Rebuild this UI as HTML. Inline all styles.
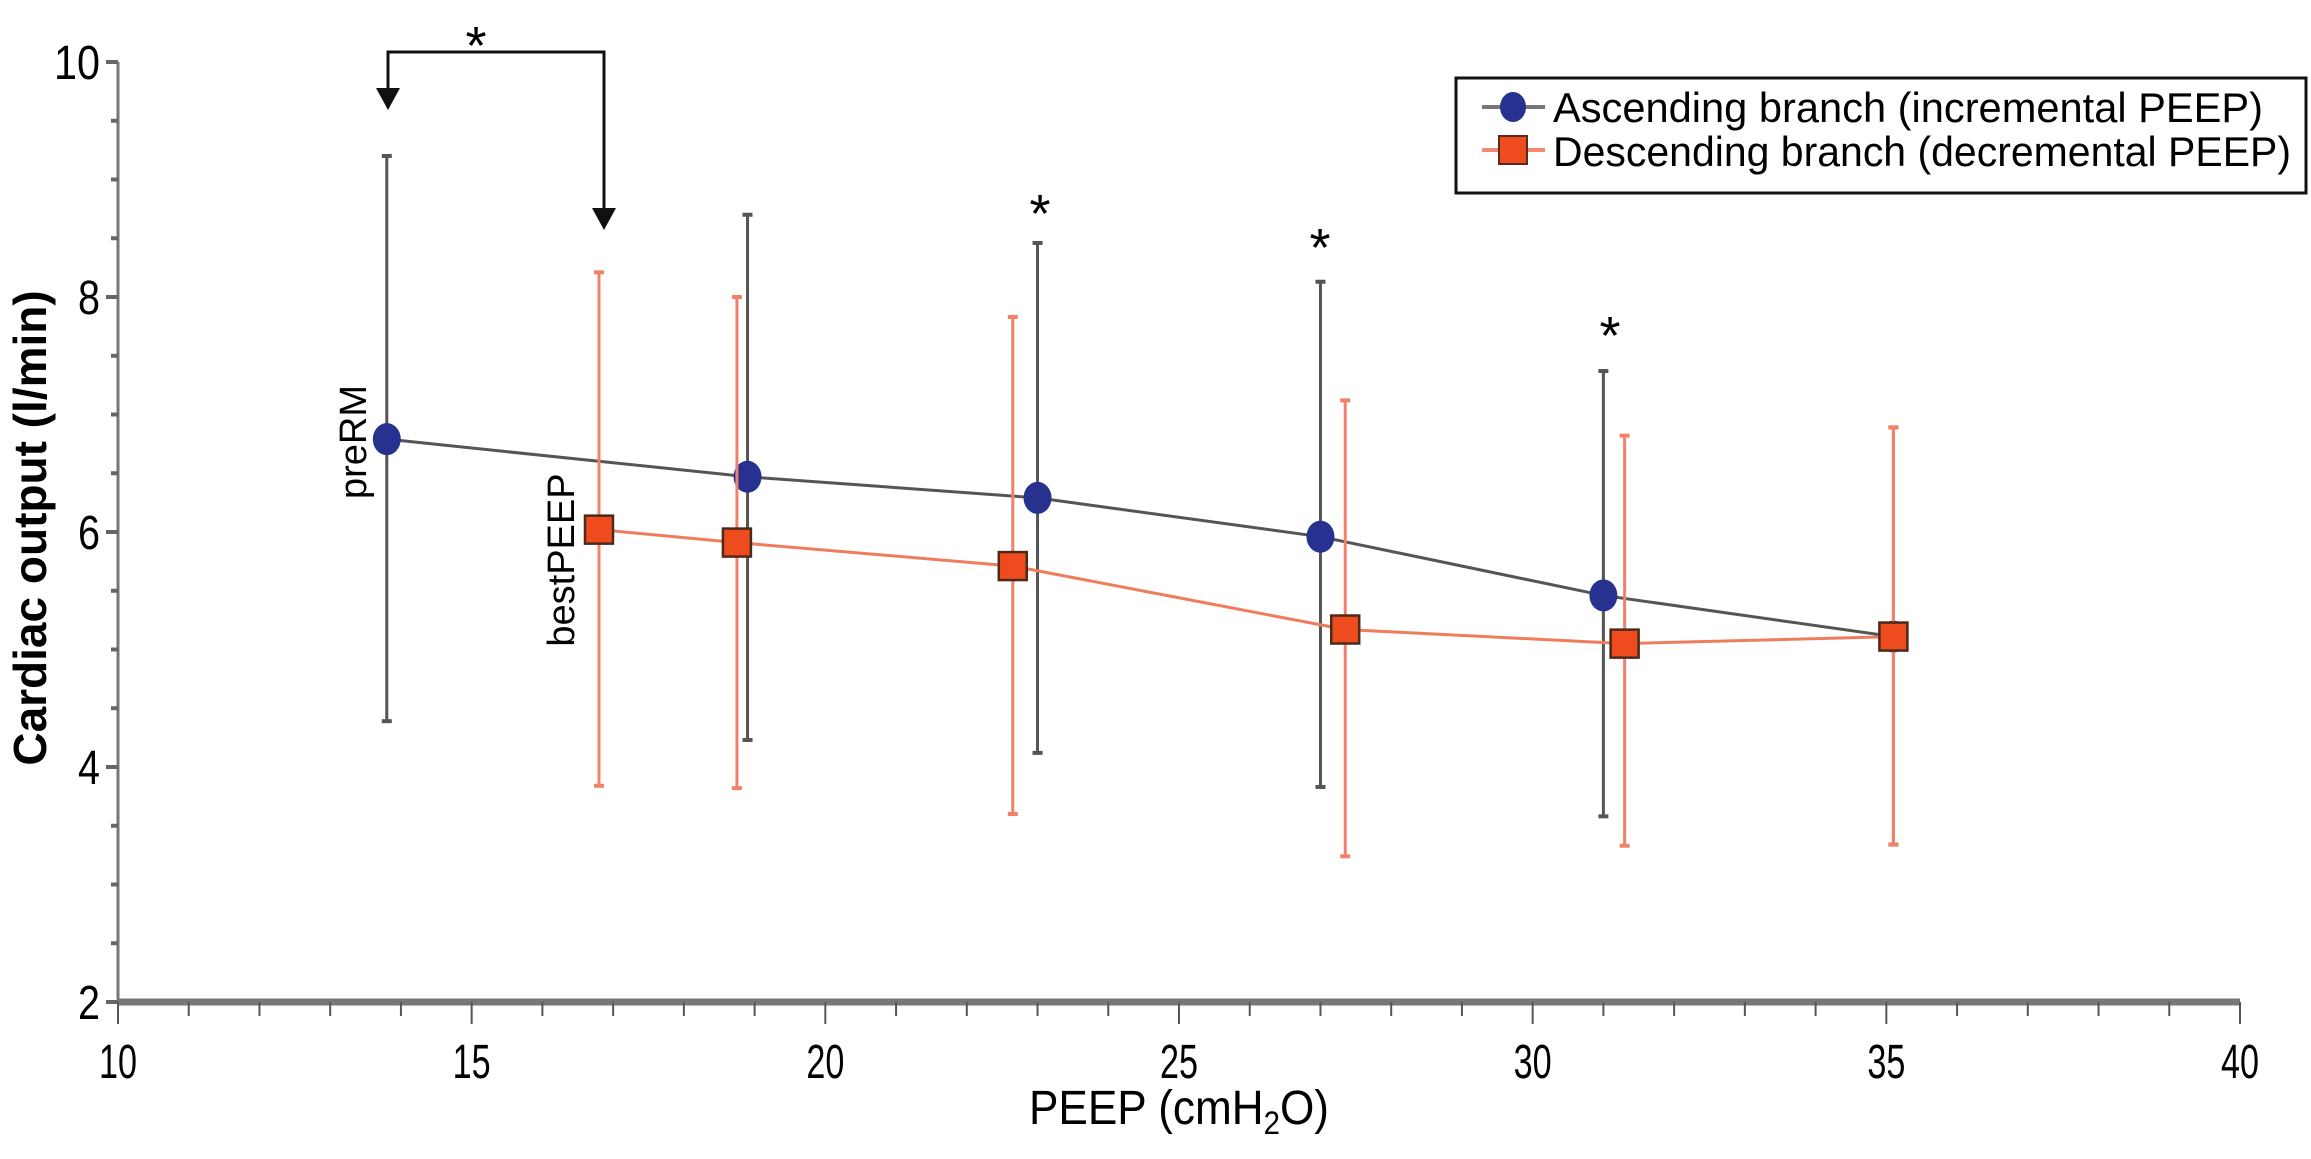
<!DOCTYPE html>
<html><head><meta charset="utf-8"><style>
html,body{margin:0;padding:0;background:#fff;}
svg{display:block;}
text{font-family:"Liberation Sans",sans-serif;}
</style></head><body>
<svg id="chart" width="2311" height="1159" viewBox="0 0 2311 1159" xmlns="http://www.w3.org/2000/svg">
<g id="axes"></g>
<g id="series"></g>
<g>
  <path d="M388,108 L388,52 L604,52 L604,210" fill="none" stroke="#111" stroke-width="3"/>
  <polygon points="376,88 400,88 388,110" fill="#111"/>
  <polygon points="592,208 616,208 604,230" fill="#111"/>
  <text x="476" y="64" font-size="54" font-weight="300" text-anchor="middle">*</text>
  <text x="1040" y="232" font-size="54" text-anchor="middle">*</text>
  <text x="1320" y="266" font-size="54" text-anchor="middle">*</text>
  <text x="1610" y="354" font-size="54" text-anchor="middle">*</text>
  <text transform="translate(366,442) rotate(-90)" font-size="38" text-anchor="middle">preRM</text>
  <text transform="translate(574,560) rotate(-90)" font-size="38" text-anchor="middle">bestPEEP</text>
</g>
<g>
  <rect x="1456" y="78" width="850" height="115" fill="#fff" stroke="#111" stroke-width="3"/>
  <line x1="1482" y1="107" x2="1545" y2="107" stroke="#777" stroke-width="4"/>
  <ellipse cx="1513" cy="107" rx="13" ry="15" fill="#27318f"/>
  <text x="1553" y="122" font-size="42" textLength="710" lengthAdjust="spacingAndGlyphs">Ascending branch (incremental PEEP)</text>
  <line x1="1482" y1="150" x2="1545" y2="150" stroke="#f08a70" stroke-width="4"/>
  <rect x="1499" y="136" width="28" height="28" fill="#ee4b1f" stroke="#5a2a1a" stroke-width="2"/>
  <text x="1553" y="166" font-size="42" textLength="738" lengthAdjust="spacingAndGlyphs">Descending branch (decremental PEEP)</text>
</g>
</svg>
<script>
const xTicks = [10, 15, 20, 25, 30, 35, 40];
const yTicks = [2, 4, 6, 8, 10];
const ascX = [13.8, 18.9, 23.0, 27.0, 31.0, 35.1];
const ascY = [6.79, 6.47, 6.29, 5.96, 5.46, 5.11];
const ascHi = [9.2, 8.7, 8.46, 8.13, 7.37, 6.89];
const ascLo = [4.39, 4.23, 4.12, 3.83, 3.58, 3.34];
const descX = [16.8, 18.75, 22.65, 27.35, 31.3, 35.1];
const descY = [6.02, 5.91, 5.71, 5.17, 5.05, 5.11];
const descHi = [8.21, 8.0, 7.83, 7.12, 6.82, 6.89];
const descLo = [3.84, 3.82, 3.6, 3.24, 3.33, 3.34];

const X0 = 118, X1 = 2240, Y0 = 1002, Y1 = 62;
const sx = v => X0 + (v - 10) / 30 * (X1 - X0);
const sy = v => Y0 - (v - 2) / 8 * (Y0 - Y1);
const NS = 'http://www.w3.org/2000/svg';
function mk(tag, attrs, parent) {
  const e = document.createElementNS(NS, tag);
  for (const k in attrs) e.setAttribute(k, attrs[k]);
  parent.appendChild(e);
  return e;
}
const axes = document.getElementById('axes');
const series = document.getElementById('series');

let yl = mk('line', {x1: X0, y1: Y1, x2: X0, y2: Y0, stroke: '#777', 'stroke-width': 3}, axes);


for (let v = 2; v <= 10; v += 0.5) {
  const major = Math.abs(v - Math.round(v / 2) * 2) < 1e-9;
  mk('line', {x1: X0 - (major ? 12 : 7), y1: sy(v), x2: X0, y2: sy(v), stroke: '#666', 'stroke-width': 4}, axes);
}
yTicks.forEach(v => {
  const t = mk('text', {x: X0 - 18, y: sy(v) + 17, 'font-size': 48, 'text-anchor': 'end', textLength: v >= 10 ? 46 : 22, lengthAdjust: 'spacingAndGlyphs'}, axes);
  t.textContent = v;
  
  
});
let xl = mk('line', {x1: X0, y1: Y0, x2: X1, y2: Y0, stroke: '#777', 'stroke-width': 7}, axes);


for (let v = 10; v <= 40; v++) {
  const major = v % 5 === 0;
  mk('line', {x1: sx(v), y1: Y0, x2: sx(v), y2: Y0 + (major ? 22 : 14), stroke: '#555', 'stroke-width': 2}, axes);
}
xTicks.forEach(v => {
  const t = mk('text', {x: sx(v), y: Y0 + 76, 'font-size': 48, 'text-anchor': 'middle', textLength: 38, lengthAdjust: 'spacingAndGlyphs'}, axes);
  t.textContent = v;
  
  
});
const xt = mk('text', {x: 1179, y: 1124, 'font-size': 48, 'text-anchor': 'middle', textLength: 300, lengthAdjust: 'spacingAndGlyphs'}, axes);
xt.innerHTML = 'PEEP (cmH<tspan font-size="32" dy="10">2</tspan><tspan dy="-10">O)</tspan>';


const yt = mk('text', {transform: 'translate(46,528) rotate(-90)', 'font-size': 46, 'font-weight': 'bold', 'text-anchor': 'middle'}, axes);
yt.textContent = 'Cardiac output (l/min)';



function drawSeries(xs, ys, hi, lo, color, barColor, name, marker) {
  const g = mk('g', {}, series);
  
  
  xs.forEach((x, i) => {
    const e = mk('line', {x1: sx(x), y1: sy(hi[i]), x2: sx(x), y2: sy(lo[i]), stroke: barColor, 'stroke-width': 3}, g);
    
    
    [hi[i], lo[i]].forEach(v => mk('line', {x1: sx(x) - 5, y1: sy(v), x2: sx(x) + 5, y2: sy(v), stroke: barColor, 'stroke-width': 4}, g));
  });
  const pts = xs.map((x, i) => sx(x) + ',' + sy(ys[i])).join(' ');
  const pl = mk('polyline', {points: pts, fill: 'none', stroke: color, 'stroke-width': 3}, g);
  
  
  xs.forEach((x, i) => {
    let m;
    if (marker === 'circle') m = mk('ellipse', {cx: sx(x), cy: sy(ys[i]), rx: 14, ry: 16, fill: '#27318f'}, g);
    else m = mk('rect', {x: sx(x) - 14, y: sy(ys[i]) - 14, width: 28, height: 28, fill: '#ee4b1f', stroke: '#4a2a1a', 'stroke-width': 2.5}, g);
    
    
  });
}
drawSeries(ascX, ascY, ascHi, ascLo, '#555', '#555', 'ascending', 'circle');
drawSeries(descX, descY, descHi, descLo, '#f07c5e', '#f0826a', 'descending', 'square');
</script>
</body></html>
